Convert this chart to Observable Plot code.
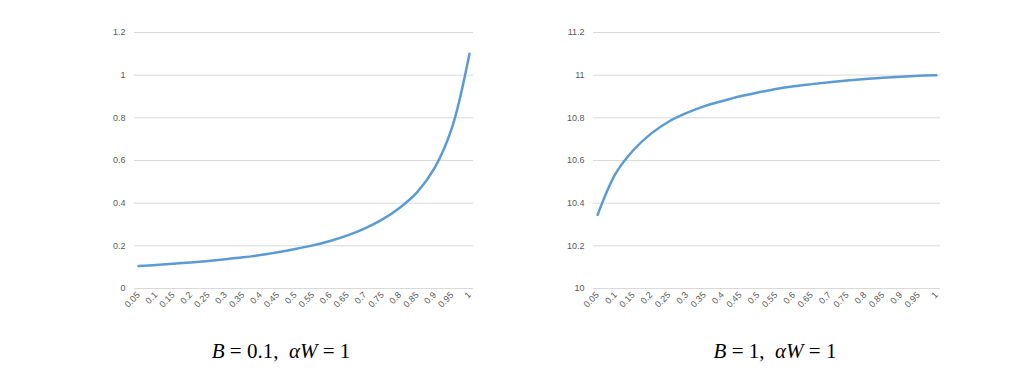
<!DOCTYPE html>
<html><head><meta charset="utf-8">
<script src="https://cdn.jsdelivr.net/npm/d3@7"></script>
<script src="https://cdn.jsdelivr.net/npm/@observablehq/plot@0.6"></script>
<style>
body{margin:0;background:#fff;width:1033px;height:388px;position:relative;overflow:hidden}
.chart{position:absolute;top:0}
.cap{position:absolute;top:339px;font-family:"Liberation Serif","Times New Roman",serif;font-size:21px;color:#000;white-space:pre;transform:translateX(-50%)}
</style></head><body>
<div id="left" class="chart" style="left:0"></div>
<div id="right" class="chart" style="left:516px"></div>
<div class="cap" style="left:281px"><i>B</i> = 0.1,  <i>αW</i> = 1</div>
<div class="cap" style="left:775px"><i>B</i> = 1,  <i>αW</i> = 1</div>
<script>
const xValues = [0.05,0.1,0.15,0.2,0.25,0.3,0.35,0.4,0.45,0.5,0.55,0.6,0.65,0.7,0.75,0.8,0.85,0.9,0.95,1];
const leftValues = [0.105,0.110,0.116,0.122,0.129,0.137,0.146,0.157,0.170,0.185,0.202,0.223,0.249,0.282,0.324,0.379,0.452,0.565,0.755,1.10];
const rightValues = [10.345,10.537,10.648,10.726,10.783,10.823,10.855,10.879,10.901,10.919,10.935,10.948,10.958,10.967,10.975,10.982,10.988,10.993,10.997,11.0];
const leftYTicks = [0,0.2,0.4,0.6,0.8,1,1.2];
const rightYTicks = [10,10.2,10.4,10.6,10.8,11,11.2];

function chart(values, yTicks, ml, mr, w) {
  const data = xValues.map((x, i) => ({x, y: values[i]}));
  const pad = 0.05 * 0.23;
  return Plot.plot({
    width: w, height: 330, marginTop: 32, marginBottom: 42, marginLeft: ml, marginRight: mr,
    style: {fontFamily: "'Liberation Sans', Arial, sans-serif", fontSize: "9px", color: "#595959", background: "transparent", overflow: "visible"},
    x: {type: "linear", domain: [xValues[0] - pad, xValues[xValues.length - 1] + pad], label: null},
    y: {domain: [yTicks[0], yTicks[yTicks.length - 1]], label: null},
    marks: [
      Plot.gridY(yTicks, {stroke: "#d9d9d9", strokeOpacity: 1, strokeWidth: 1}),
      Plot.axisY(yTicks, {tickSize: 0, tickPadding: 9, tickFormat: d => String(d), label: null}),
      Plot.axisX(xValues, {tickSize: 0, tickRotate: -45, tickPadding: 5, tickFormat: d => String(d), label: null}),
      Plot.line(data, {x: "x", y: "y", stroke: "#5b9bd5", strokeWidth: 2.5, curve: "catmull-rom"})
    ]
  });
}
document.getElementById("left").append(chart(leftValues, leftYTicks, 134, 43, 516));
document.getElementById("right").append(chart(rightValues, rightYTicks, 77, 93, 517));
</script>
</body></html>
